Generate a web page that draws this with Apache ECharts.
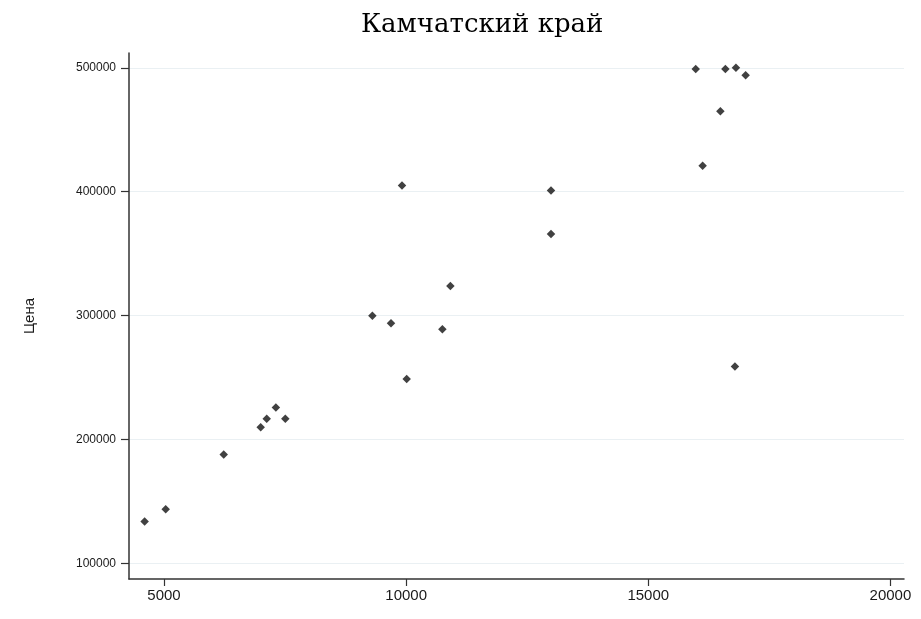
<!DOCTYPE html>
<html>
<head>
<meta charset="utf-8">
<script src="https://cdn.jsdelivr.net/npm/echarts@6/dist/echarts.min.js"></script>
<style>
  html, body { margin: 0; padding: 0; background: #ffffff; }
  #chart { width: 921px; height: 619px; }
</style>
</head>
<body>
<div id="chart"></div>
<script>
const titleText = 'Камчатский край';
const yAxisName = 'Цена';
const xTicks = [5000, 10000, 15000, 20000];
const yTicks = [100000, 200000, 300000, 400000, 500000];
const xValues = [4600, 5035, 6233, 6997, 7121, 7310, 7505, 9303, 9687, 9914, 10011, 10748, 10914, 12991, 12991, 15980, 16592, 16811, 17011, 16489, 16122, 16790];
const yValues = [134000, 144000, 188000, 210000, 217000, 226000, 217000, 300000, 294000, 405000, 249000, 289000, 324000, 401000, 366000, 499000, 499000, 500000, 494000, 465000, 421000, 259000];

const points = xValues.map((x, i) => [x, yValues[i]]);
const plain = v => String(Math.round(v));

const chart = echarts.init(document.getElementById('chart'), null, { renderer: 'canvas' });
chart.setOption({
  animation: false,
  backgroundColor: '#ffffff',
  title: {
    text: titleText,
    left: 361,
    top: 12,
    padding: 0,
    textStyle: {
      fontFamily: 'DejaVu Serif',
      fontSize: 26,
      fontWeight: 'normal',
      color: '#000000'
    }
  },
  grid: { left: 129, top: 53, right: 17, bottom: 40, containLabel: false },
  xAxis: {
    type: 'value',
    min: 4277,
    max: 20281,
    axisLine: { show: true, onZero: false, lineStyle: { color: '#333333', width: 1.5 } },
    axisTick: { show: true, length: 7, customValues: xTicks, lineStyle: { color: '#333333', width: 1.2 } },
    axisLabel: {
      customValues: xTicks,
      formatter: plain,
      margin: 9,
      fontFamily: 'Liberation Sans',
      fontSize: 15,
      color: '#1a1a1a'
    },
    splitLine: { show: false }
  },
  yAxis: {
    type: 'value',
    min: 87650,
    max: 511900,
    name: yAxisName,
    nameLocation: 'middle',
    nameRotate: 90,
    nameGap: 92,
    nameTextStyle: { fontFamily: 'Liberation Sans', fontSize: 15, color: '#1a1a1a' },
    axisLine: { show: true, onZero: false, lineStyle: { color: '#333333', width: 1.5 } },
    axisTick: { show: true, length: 8, customValues: yTicks, lineStyle: { color: '#333333', width: 1.2 } },
    axisLabel: {
      customValues: yTicks,
      formatter: plain,
      margin: 13,
      fontFamily: 'Liberation Sans',
      fontSize: 12,
      color: '#1a1a1a'
    },
    splitLine: { show: true, lineStyle: { color: '#eaf0f3', width: 1.2 } }
  },
  series: [{
    type: 'scatter',
    data: points,
    symbol: 'diamond',
    symbolSize: [8.5, 8.5],
    itemStyle: { color: '#111111' }
  }]
});
</script>
</body>
</html>
